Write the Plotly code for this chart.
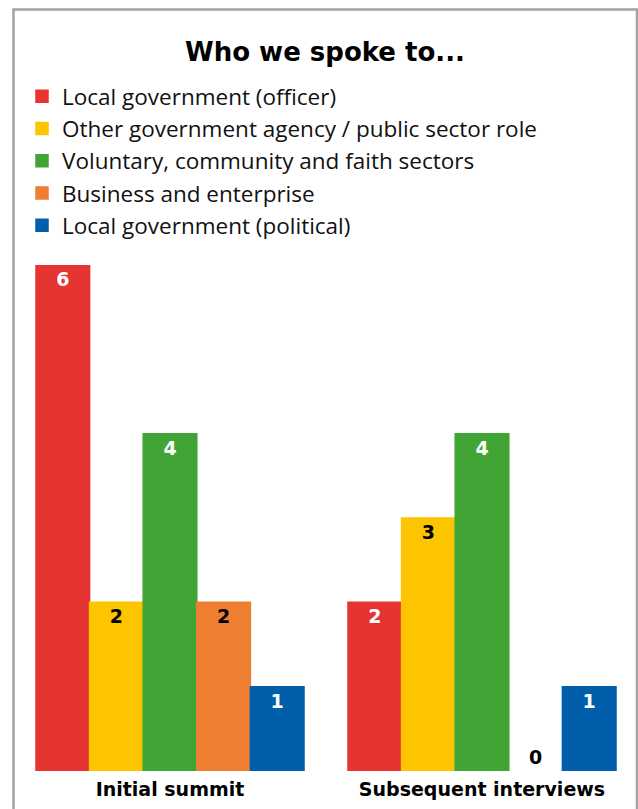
import plotly.graph_objects as go

categories = ["Initial summit", "Subsequent interviews"]
series_names = [
    "Local government (officer)",
    "Other government agency / public sector role",
    "Voluntary, community and faith sectors",
    "Business and enterprise",
    "Local government (political)",
]
local_gov_officer = [6, 2]
other_gov_agency = [2, 3]
voluntary_community = [4, 4]
business_enterprise = [2, 0]
local_gov_political = [1, 1]

values = [local_gov_officer, other_gov_agency, voluntary_community,
          business_enterprise, local_gov_political]
colors = ["#E63433", "#FDC400", "#41A536", "#EE7F32", "#005EAA"]
label_colors = ["white", "black", "white", "black", "white"]

W, H = 638, 809
ml, mr, mt, mb = 14, 0, 265, 38

fig = go.Figure()
for i, (name, vals) in enumerate(zip(series_names, values)):
    pos = ["inside" if v > 0 else "outside" for v in vals]
    lw = [1.5 if v > 0 else 0 for v in vals]
    fig.add_trace(go.Bar(
        name=name, x=categories, y=vals,
        marker=dict(color=colors[i], line=dict(color=colors[i], width=lw)),
        text=[str(v) for v in vals],
        textposition=pos,
        insidetextanchor="end",
        textangle=0,
        constraintext="none",
        textfont=dict(family="DejaVu Sans", size=19, weight="bold", color=label_colors[i]),
        outsidetextfont=dict(family="DejaVu Sans", size=19, weight="bold", color="black"),
        insidetextfont=dict(family="DejaVu Sans", size=19, weight="bold", color=label_colors[i]),
        cliponaxis=False,
        legendgroup=f"g{i}",
        hoverinfo="skip",
    ))

pw = W - ml - mr
ph = H - mt - mb
def px_x(p):
    return (p - ml) / pw
def px_y(p):
    return (H - mb - p) / ph

fig.update_layout(
    width=W, height=H,
    margin=dict(l=ml, r=mr, t=mt, b=mb, autoexpand=False),
    paper_bgcolor="white", plot_bgcolor="white",
    barmode="group", bargap=0.141, bargroupgap=0,
    title=dict(text="<b>Who we spoke to...</b>", x=325 / W, xanchor="center",
               y=1 - 52 / H, yanchor="middle",
               font=dict(family="DejaVu Sans", size=26, weight="bold", color="black")),
    legend=dict(xref="container", yref="container", x=22 / W, y=1 - 75 / H,
                xanchor="left", yanchor="top", orientation="v",
                font=dict(family="Open Sans", size=22.5, color="#111111"),
                tracegroupgap=0, itemclick=False, itemdoubleclick=False,
                bgcolor="rgba(0,0,0,0)"),
    xaxis=dict(range=[-0.5, 1.5], showgrid=False, zeroline=False, showline=False,
               ticks="", tickangle=0, automargin=False, ticklabelstandoff=5,
               tickfont=dict(family="DejaVu Sans", size=19, weight="bold", color="black"),
               fixedrange=True),
    yaxis=dict(range=[0, 6], visible=False, fixedrange=True, automargin=False),
    showlegend=True,
    shapes=[dict(type="rect", xref="paper", yref="paper",
                 x0=px_x(13.5), x1=px_x(637), y0=px_y(830), y1=px_y(9.5),
                 line=dict(color="#A3A3A3", width=2.5), layer="below")],
)

fig.write_html("out.html")
